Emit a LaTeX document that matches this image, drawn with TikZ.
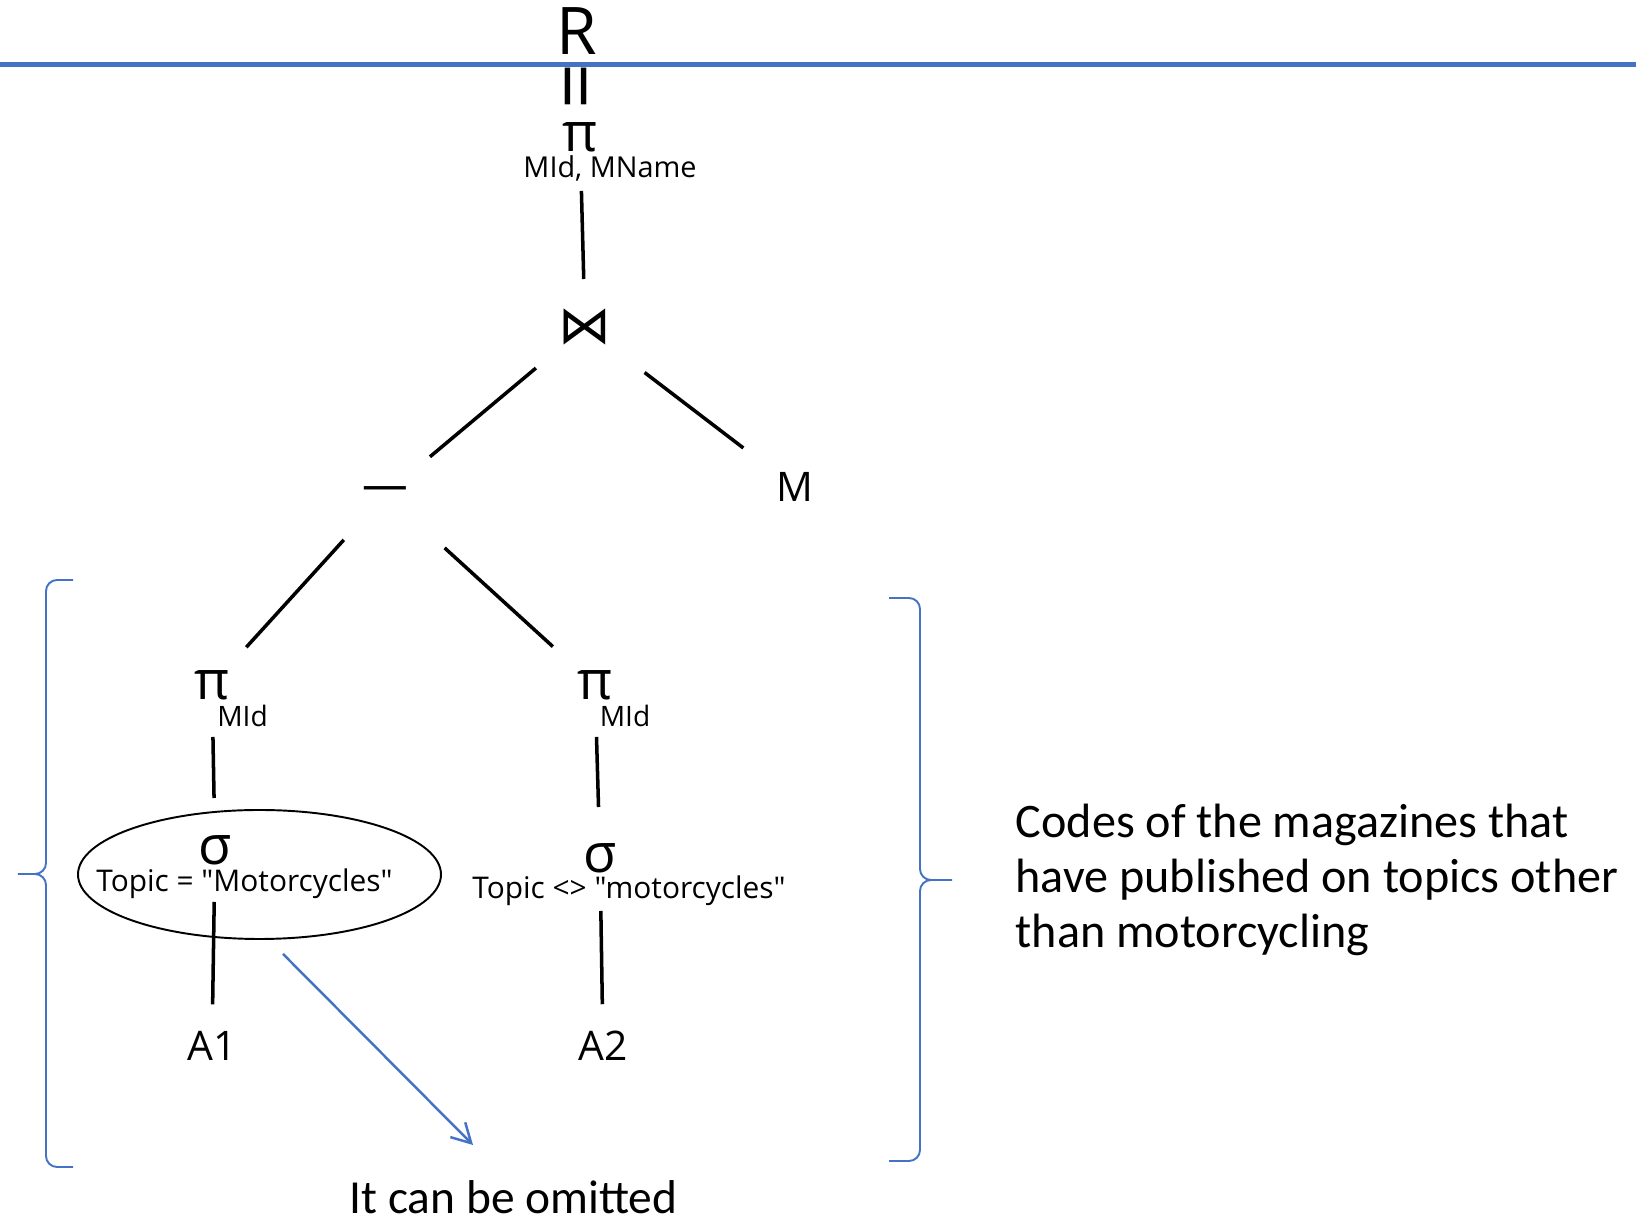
\documentclass[tikz,border=0pt]{standalone}
\usepackage{fontspec}
\setmainfont{Open Sans}
\newfontfamily\treefont{Open Sans}
\newfontfamily\calfont{Carlito}
\newfontfamily\symfont{DejaVu Sans}
\usetikzlibrary{shapes.geometric,arrows.meta}
\definecolor{offblue}{HTML}{4472C4}

\begin{document}
\begin{tikzpicture}[
  op/.style={inner sep=0pt, font=\fontsize{15.4}{18}\selectfont},
  attr/.style={inner sep=0pt, anchor=base, font=\fontsize{8}{10}\selectfont},
  cond/.style={inner sep=0pt, anchor=base, font=\treefont\fontsize{8.5}{10}\selectfont},
  rel/.style={inner sep=0pt, anchor=base, font=\fontsize{11.6}{14}\selectfont},
  edge/.style={line width=1pt},
  bracket/.style={offblue, line width=0.55pt, rounded corners=0.11cm},
  note/.style={inner sep=0pt, font=\calfont\fontsize{13.7}{15.65}\selectfont}]
\useasboundingbox (0,0) rectangle (16.36,-12.22);

\node (res) [inner sep=0pt, font=\fontsize{18.7}{22}\selectfont] at (5.77,-0.315) {R} ;
\draw [offblue, line width=1.4pt] (0,-0.645) -- (16.36,-0.645) ;
\node (eq) [inner sep=0pt, rotate=90, font=\fontsize{23}{26}\selectfont] at (5.845,-0.86) {=} ;

\node (proj) [op] at (5.80,-1.37) {π} ;
\node (projat) [attr, font=\fontsize{8.2}{10}\selectfont] at (6.10,-1.78) {MId, MName} ;
\node (join) [inner sep=0pt, font=\symfont\fontsize{15}{18}\selectfont] at (5.85,-3.27) {⋈} ;
\node (diff) [op, font=\fontsize{13}{16}\selectfont] at (3.855,-4.94) {—} ;
\node (mag) [rel] at (7.95,-5.02) {M} ;

\node (projl) [op] at (2.12,-6.85) {π} ;
\node (projlat) [attr] at (2.425,-7.27) {MId} ;
\node (projr) [op] at (5.95,-6.85) {π} ;
\node (projrat) [attr] at (6.25,-7.27) {MId} ;

\node (sell) [op] at (2.15,-8.50) {σ} ;
\node (sellat) [cond] at (2.445,-8.92) {Topic = "Motorcycles"} ;
\node (selr) [op] at (6.00,-8.58) {σ} ;
\node (selrat) [cond] at (6.29,-8.99) {Topic <> "motorcycles"} ;

\node (aone) [rel] at (2.12,-10.61) {A1} ;
\node (atwo) [rel] at (6.03,-10.61) {A2} ;

\draw [edge, shorten <=0.54cm, shorten >=0.48cm] (proj.center) to (join.center) ;
\draw [edge, shorten <=0.64cm, shorten >=0.58cm] (join.center) to (diff.center) ;
\draw [edge, shorten <=0.75cm, shorten >=0.65cm] (join.center) to (mag.center) ;
\draw [edge, shorten <=0.62cm, shorten >=0.51cm] (diff.center) to (projl.center) ;
\draw [edge, shorten <=0.80cm, shorten >=0.57cm] (diff.center) to (projr.center) ;
\draw [edge, shorten <=0.52cm, shorten >=0.52cm] (projl.center) to (sell.center) ;
\draw [edge, shorten <=0.52cm, shorten >=0.51cm] (projr.center) to (selr.center) ;
\draw [edge, shorten <=0.52cm, shorten >=0.42cm] (sell.center) to (aone.center) ;
\draw [edge, shorten <=0.53cm, shorten >=0.42cm] (selr.center) to (atwo.center) ;

% the selection that is not needed
\node (omit) [draw, ellipse, line width=0.55pt, inner sep=0pt, minimum width=3.63cm, minimum height=1.29cm] at (2.595,-8.745) {} ;
\node (omitnote) [note, anchor=base, font=\calfont\fontsize{13.5}{16}\selectfont] at (5.135,-12.14) {It can be omitted} ;
\coordinate (tip) at (4.73,-11.45) ;
\draw [offblue, line width=0.7pt, -{Straight Barb[length=1.9mm,width=2.1mm]}] ([xshift=0.235cm,yshift=-0.14cm]omit.south) -- (tip) ;

% braces round the difference
\draw [bracket] (0.73,-5.80) -- (0.46,-5.80) -- (0.46,-8.74) -- (0.18,-8.74)
  (0.18,-8.74) -- (0.46,-8.74) -- (0.46,-11.67) -- (0.73,-11.67) ;
\draw [bracket] (8.89,-5.98) -- (9.20,-5.98) -- (9.20,-8.80) -- (9.52,-8.80)
  (9.52,-8.80) -- (9.20,-8.80) -- (9.20,-11.61) -- (8.89,-11.61) ;
\node (meaning) [note, anchor=base west, align=left] at (10.15,-9.48) {Codes of the magazines that\\have published on topics other\\than motorcycling} ;
\end{tikzpicture}
\end{document}
